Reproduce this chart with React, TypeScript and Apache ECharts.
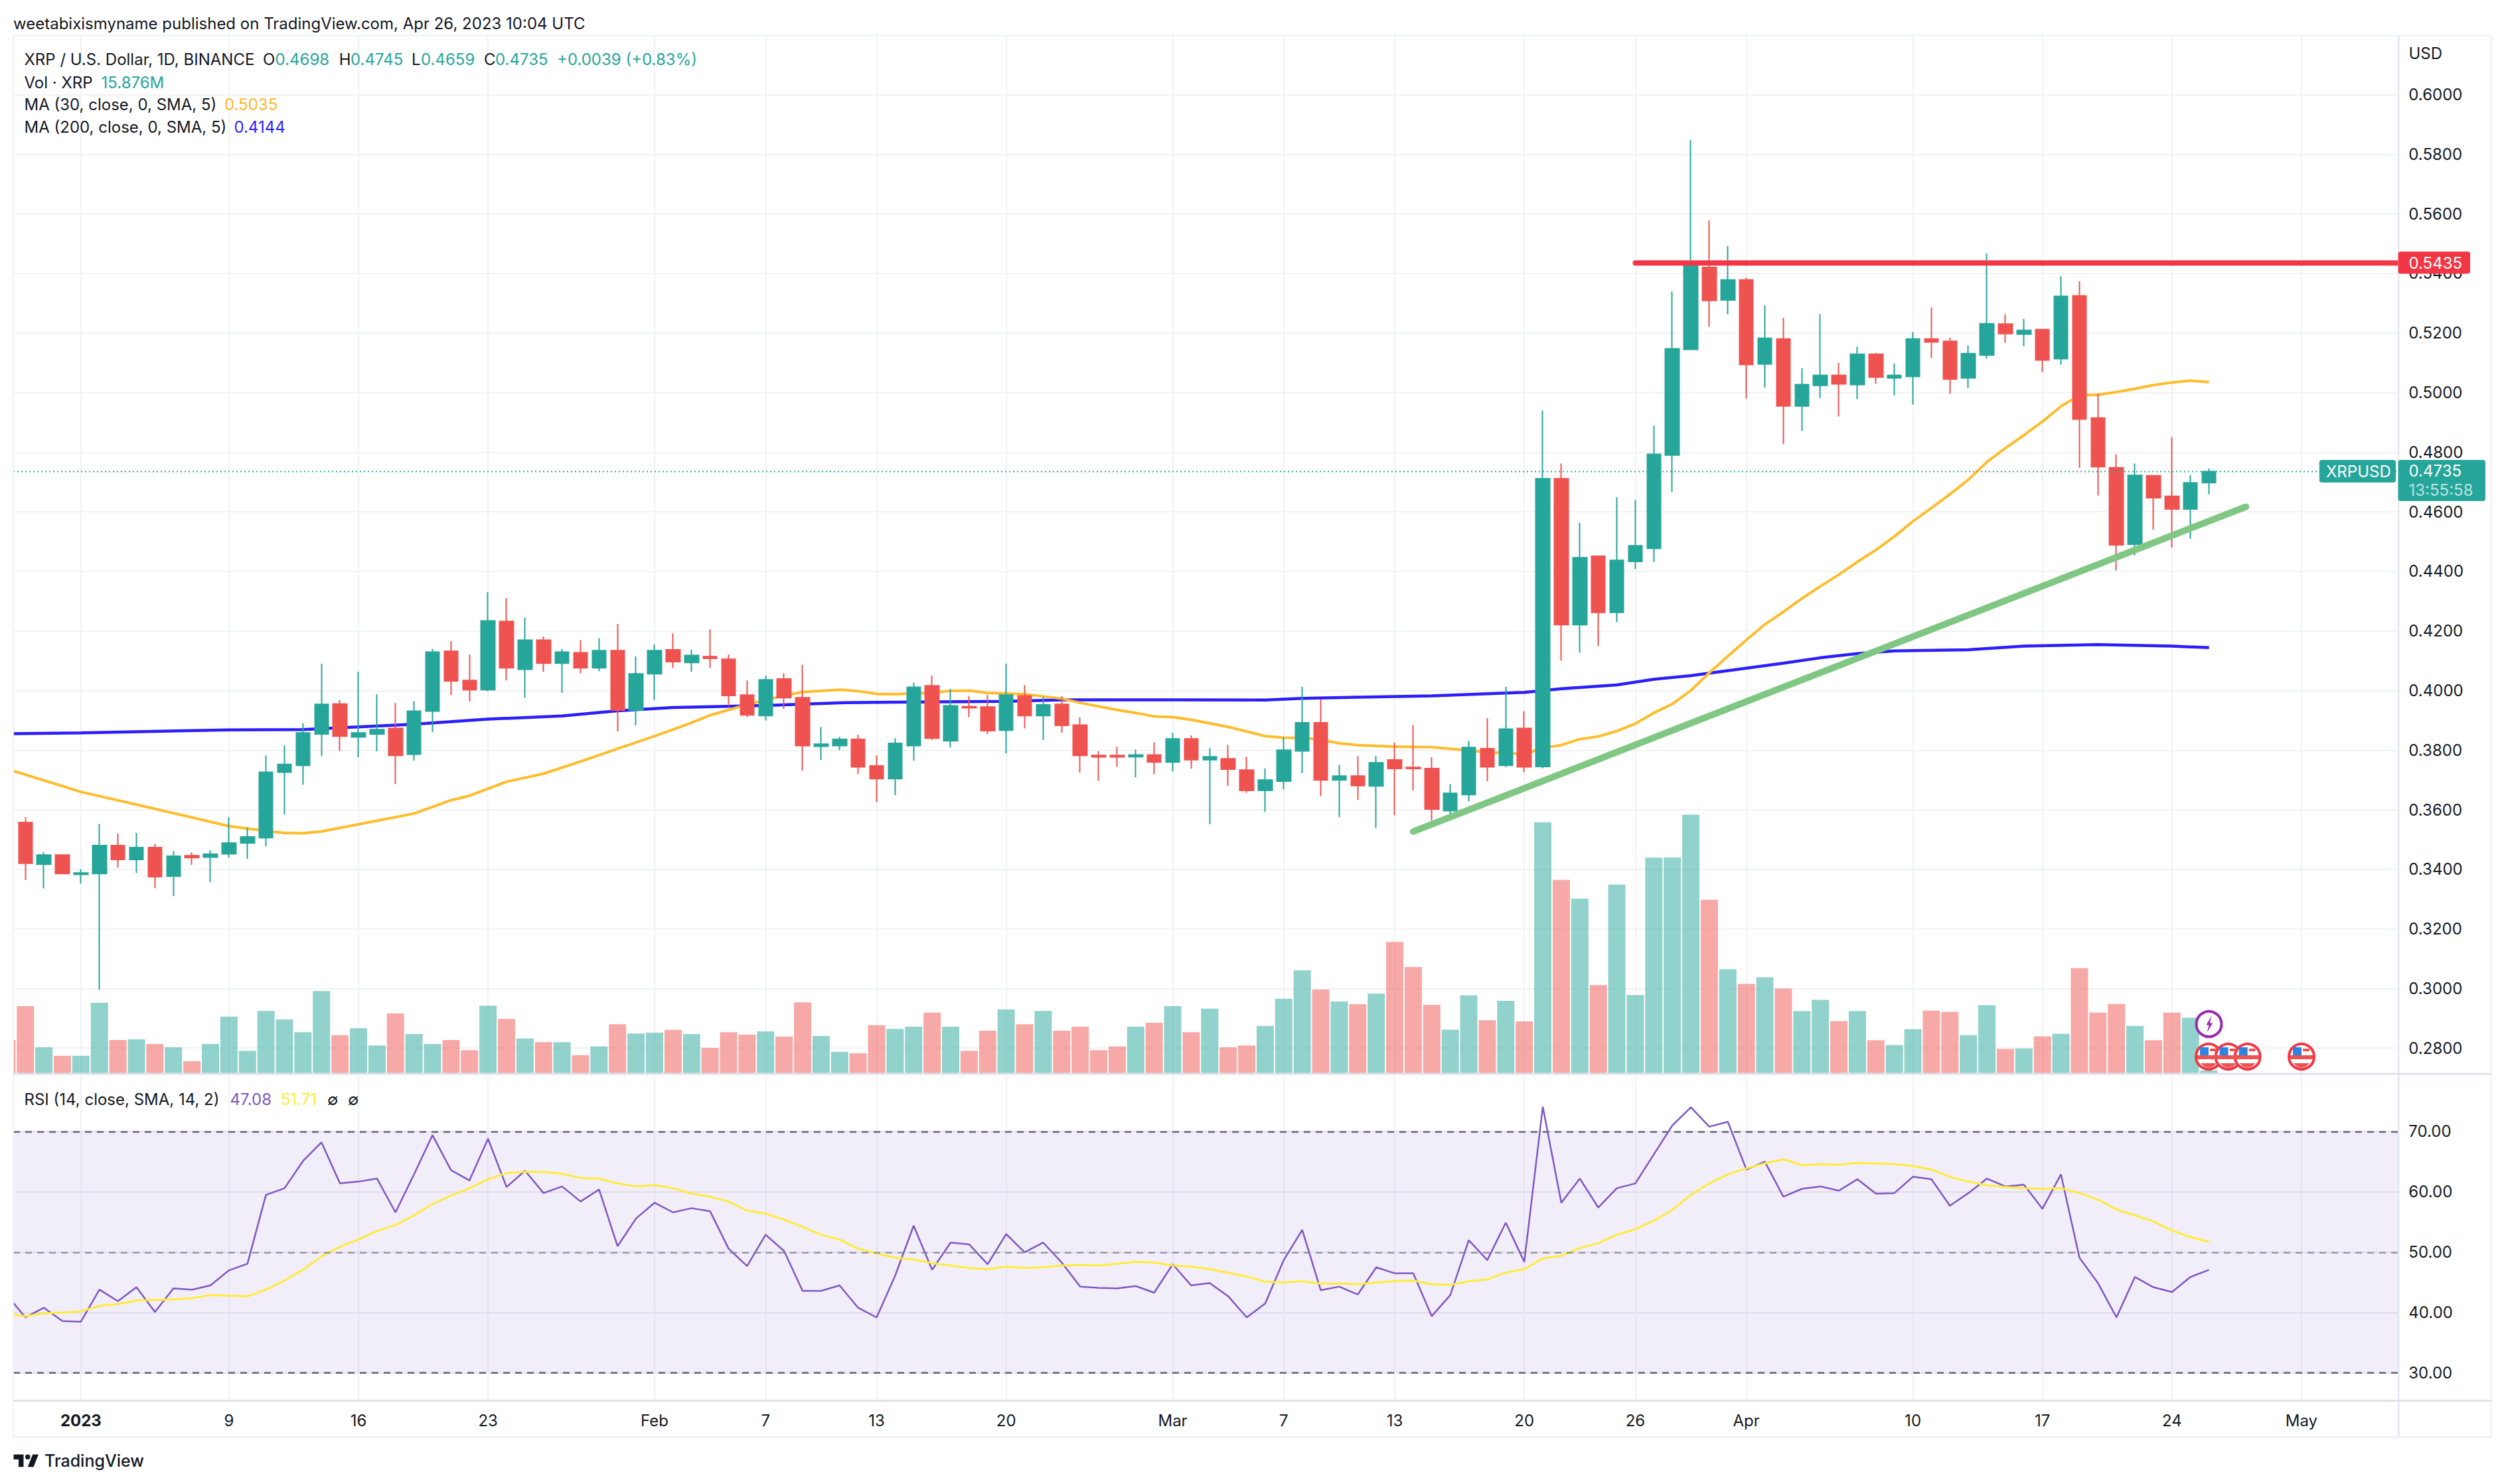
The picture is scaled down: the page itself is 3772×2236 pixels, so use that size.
import React, { useEffect, useRef } from "react";
import * as echarts from "echarts";

const FIRST_CANDLE_DAY = -3; // days after 1 Jan 2023
const opens = [.3557,.3417,.3448,.3383,.3386,.3480,.3433,.3473,.3377,.3446,.3441,.3452,.3488,.3506,.3726,.3749,.3854,.3955,.3844,.3854,.3873,.3786,.3931,.4132,.4034,.4003,.4232,.4071,.4169,.4092,.4127,.4076,.4134,.3934,.4056,.4137,.4094,.4114,.4105,.3985,.3916,.4039,.3976,.3813,.3815,.3836,.3747,.3704,.3815,.4016,.3831,.3946,.3945,.3867,.3982,.3916,.3954,.3884,.3782,.3782,.3778,.3784,.3760,.3838,.3768,.3771,.3733,.3665,.3696,.3797,.3892,.3700,.3713,.3680,.3767,.3742,.3738,.3597,.3651,.3805,.3749,.3873,.3745,.4711,.4221,.4451,.4262,.4433,.4477,.4790,.5145,.5420,.5311,.5378,.5096,.5180,.4955,.5024,.5058,.5027,.5129,.5049,.5054,.5180,.5172,.5049,.5126,.5230,.5196,.5212,.5114,.5325,.4915,.4748,.4491,.4721,.4652,.4609,.4698];
const closes = [.3420,.3448,.3386,.3388,.3480,.3433,.3473,.3375,.3444,.3439,.3451,.3488,.3509,.3726,.3752,.3858,.3954,.3847,.3858,.3869,.3782,.3931,.4129,.4032,.4003,.4234,.4076,.4169,.4092,.4129,.4076,.4134,.3934,.4056,.4134,.4097,.4118,.4108,.3983,.3918,.4036,.3976,.3815,.3820,.3836,.3744,.3704,.3823,.4011,.3840,.3949,.3942,.3865,.3985,.3916,.3952,.3883,.3782,.3777,.3777,.3784,.3760,.3838,.3768,.3778,.3736,.3665,.3700,.3800,.3892,.3700,.3713,.3681,.3758,.3738,.3738,.3602,.3655,.3809,.3744,.3871,.3744,.4711,.4221,.4446,.4262,.4437,.4486,.4793,.5147,.5426,.5309,.5378,.5094,.5182,.4955,.5027,.5058,.5029,.5129,.5052,.5058,.5180,.5170,.5045,.5131,.5231,.5198,.5209,.5109,.5323,.4911,.4751,.4489,.4722,.4647,.4609,.4697,.4735];
const lows = [.3364,.3336,.3386,.3352,.2996,.3406,.3388,.3337,.3310,.3415,.3357,.3439,.3435,.3477,.3584,.3684,.3780,.3797,.3776,.3796,.3686,.3765,.3860,.3985,.3963,.3998,.4034,.3976,.4063,.3992,.4058,.4065,.3863,.3883,.3969,.4076,.4063,.4076,.3947,.3911,.3900,.3939,.3731,.3767,.3800,.3720,.3626,.3649,.3765,.3834,.3809,.3911,.3854,.3789,.3873,.3834,.3859,.3725,.3697,.3744,.3709,.3720,.3728,.3738,.3551,.3680,.3657,.3593,.3668,.3723,.3646,.3575,.3633,.3539,.3581,.3665,.3564,.3578,.3628,.3696,.3744,.3726,.3739,.4101,.4127,.4150,.4230,.4408,.4431,.4667,.5145,.5221,.5263,.4980,.5017,.4827,.4871,.4982,.4920,.4978,.5029,.4991,.4960,.5116,.4996,.5015,.5114,.5167,.5156,.5069,.5094,.4748,.4655,.4403,.4454,.4540,.4480,.4509,.4659];
const highs = [.3575,.3457,.3448,.3400,.3552,.3520,.3522,.3486,.3462,.3457,.3464,.3575,.3540,.3782,.3816,.3890,.4090,.3968,.4063,.3987,.3958,.3965,.4140,.4166,.4121,.4330,.4310,.4245,.4181,.4140,.4169,.4176,.4224,.4114,.4155,.4192,.4137,.4205,.4121,.4034,.4050,.4058,.4087,.3878,.3844,.3852,.3782,.3840,.4027,.4050,.4005,.3981,.3985,.4090,.4018,.3978,.3981,.3910,.3796,.3811,.3802,.3826,.3858,.3849,.3807,.3818,.3778,.3739,.3844,.4013,.3971,.3751,.3780,.3780,.3825,.3884,.3776,.3686,.3831,.3907,.4013,.3931,.4940,.4762,.4563,.4451,.4649,.4639,.4889,.5339,.5847,.5578,.5492,.5385,.5293,.5251,.5082,.5263,.5100,.5154,.5133,.5098,.5203,.5286,.5184,.5158,.5467,.5263,.5247,.5214,.5390,.5374,.4997,.4793,.4762,.4721,.4851,.4723,.4745];

// Volume in millions of XRP, first value is the clipped bar of day -4.
const volumes = [163,326,128,87,87,342,163,166,144,128,61,144,276,111,303,262,201,399,186,220,137,291,192,144,163,114,329,265,170,153,153,90,132,239,194,198,212,192,125,201,189,205,179,345,182,106,99,234,217,227,295,227,111,208,310,239,303,208,227,114,132,227,246,326,201,314,128,137,231,361,499,406,349,336,387,636,515,333,213,378,258,352,253,1212,935,844,428,912,380,1042,1043,1249,839,504,433,465,411,302,357,254,302,162,139,215,305,298,186,331,120,122,181,193,509,295,337,231,162,295,270,16];

const ma200Days = [-4,0,8,12,18,22,26,29,32,37,41,44,50,53,59,64,66,73,78,80,83,85,87,90,92,94,96,98,102,105,109,113,115];
const ma200Values = [.3855,.3858,.3868,.3869,.3887,.3904,.3915,.3932,.3943,.3950,.3959,.3961,.3964,.3969,.3969,.3968,.3974,.3982,.3994,.4006,.4019,.4038,.4050,.4075,.4092,.4110,.4124,.4133,.4137,.4149,.4154,.4149,.4144];
const ma30Days = [-4,0,4,8,10,11,12,13,15,18,20,21,23,25,27,29,31,33,34,36,38,39,41,42,43,44,46,47,48,49,51,53,54,56,57,58,59,60,62,64,65,66,67,68,69,71,73,75,76,78,79,80,81,82,83,84,85,86,87,88,89,90,91,92,93,94,95,96,97,98,99,100,101,102,103,104,105,106,107,108,109,110,111,112,113,114,115];
const ma30Values = [.3737,.3660,.3603,.3545,.3529,.3522,.3521,.3527,.3551,.3587,.3632,.3647,.3694,.3721,.3762,.3805,.3847,.3892,.3917,.3953,.3983,.3995,.4003,.3998,.3989,.3988,.3993,.3999,.4000,.3992,.3988,.3973,.3959,.3935,.3925,.3913,.3911,.3902,.3878,.3847,.3842,.3841,.3835,.3823,.3817,.3812,.3810,.3799,.3793,.3787,.3807,.3817,.3837,.3846,.3864,.3889,.3925,.3955,.4000,.4060,.4115,.4170,.4222,.4264,.4309,.4350,.4389,.4432,.4472,.4517,.4568,.4613,.4659,.4708,.4767,.4814,.4857,.4903,.4954,.4991,.4993,.5002,.5013,.5025,.5034,.5040,.5035];

const rsiValues = [42.9,39.2,40.8,38.6,38.5,43.8,41.9,44.2,40.1,44.0,43.8,44.5,47.0,48.1,59.5,60.6,65.1,68.2,61.4,61.7,62.2,56.6,62.9,69.4,63.6,61.9,68.8,60.8,63.5,59.8,60.9,58.4,60.4,51.0,55.6,58.2,56.6,57.3,56.8,50.6,47.7,52.9,50.2,43.6,43.6,44.5,40.8,39.2,46.1,54.4,47.1,51.6,51.3,48.0,53.0,50.0,51.6,48.3,44.3,44.1,44.0,44.4,43.3,48.0,44.5,44.9,42.7,39.2,41.5,48.7,53.7,43.7,44.3,43.0,47.5,46.5,46.5,39.4,42.9,52.0,48.7,54.9,48.4,74.1,58.2,62.2,57.4,60.6,61.4,66.2,71.0,74.0,70.8,71.6,63.7,65.0,59.2,60.5,60.9,60.2,62.1,59.7,59.8,62.5,62.1,57.7,59.8,62.2,60.9,61.2,57.2,62.9,49.1,44.9,39.2,45.9,44.2,43.4,45.9,47.08];
const rsiSmaValues = [39.8,39.4,39.9,40.0,40.2,41.1,41.4,42.0,42.1,42.2,42.4,42.9,42.8,42.7,43.8,45.3,47.1,49.3,50.9,52.1,53.5,54.5,56.1,58.0,59.4,60.6,62.1,63.1,63.3,63.3,63.0,62.3,62.2,61.4,60.9,61.1,60.6,59.7,59.2,58.4,56.9,56.4,55.4,54.2,52.9,52.1,50.6,49.8,49.1,48.8,48.2,47.8,47.4,47.2,47.6,47.4,47.5,47.8,47.9,47.8,48.1,48.4,48.3,47.8,47.6,47.2,46.6,46.0,45.1,45.0,45.2,44.8,44.8,44.7,45.0,45.2,45.3,44.7,44.6,45.2,45.5,46.6,47.2,49.0,49.4,50.7,51.5,52.9,53.8,55.2,57.0,59.5,61.4,62.9,63.9,64.7,65.4,64.4,64.6,64.5,64.8,64.7,64.6,64.3,63.7,62.5,61.7,61.1,60.8,60.6,60.5,60.6,59.8,58.7,57.1,56.1,55.1,53.6,52.5,51.71];

const priceTicks = [.28,.30,.32,.34,.36,.38,.40,.42,.44,.46,.48,.50,.52,.54,.56,.58,.60];
const rsiTicks = [30,40,50,60,70];
const timeTickDays = [0,8,15,22,31,37,43,50,59,65,71,78,84,90,99,106,113,120];
const timeTickLabels = ["2023","9","16","23","Feb","7","13","20","Mar","7","13","20","26","Apr","10","17","24","May"];
const trendDays = [72,117];
const trendValues = [.3527,.4617];
const resistanceDays = [84,126];
const resistanceValue = .5435;
const lastClose = .4735;

const FONT = "Inter";
const TEAL = "#26a69a";
const RED = "#ef5350";
const INK = "#131722";
const GRIDC = "#f1f2f5";
const BORDER = "#e0e3eb";

const LOGO = "M14 6H2v6h6v9h6V6Zm12 15h-7l6-15h7l-6 15Zm-7-9a3 3 0 1 0 0-6 3 3 0 0 0 0 6Z";
const BOLT = "M3 -9 L-3 1 L0 1 L-2 9 L4 -1 L1 -1 Z";

const X_MIN = -3.655, X_MAX = 125.25;
const L = 20, R = 3613.3, OUTER = 3753;
const FS = 24;

function t(x: number, y: number, text: string, fill: string, extra: any = {}) {
  return { type: "text", x, y, z: 100, style: { text, fill, font: `${extra.weight || 400} ${extra.size || FS}px ${FONT}`, verticalAlign: "middle", align: extra.align || "left" } };
}
function ln(x1: number, y1: number, x2: number, y2: number, stroke: string, lineWidth = 2) {
  return { type: "line", z: 50, shape: { x1, y1, x2, y2 }, style: { stroke, lineWidth } };
}
function rr(x: number, y: number, width: number, height: number, fill: string, r = 4) {
  return { type: "rect", z: 90, shape: { x, y, width, height, r }, style: { fill } };
}
function flag(x: number, y: number) {
  return {
    type: "group", x, y, z: 110,
    children: [
      { type: "circle", z: 110, shape: { r: 19 }, style: { fill: "#fff", stroke: "#f23645", lineWidth: 4 } },
      { type: "rect", z: 111, shape: { x: -13, y: -14, width: 13, height: 13 }, style: { fill: "#2b84e4" } },
      { type: "rect", z: 111, shape: { x: -17, y: -2, width: 34, height: 6 }, style: { fill: "#f0534f" } },
      { type: "polygon", z: 111, shape: { points: [[-12, 10], [12, 10], [7, 15], [0, 17], [-7, 15]] }, style: { fill: "#f0534f" } },
      { type: "rect", z: 111, shape: { x: 2, y: -12, width: 10, height: 4 }, style: { fill: "#f0534f" } },
    ],
  };
}

export default function App() {
  const ref = useRef<HTMLDivElement>(null);
  useEffect(() => {
    const el = ref.current!;
    echarts.graphic.registerShape("tvlogo", echarts.graphic.extendPath(LOGO, {}));
    echarts.graphic.registerShape("bolt", echarts.graphic.extendPath(BOLT, {}));
    const chart = echarts.init(el, undefined, { renderer: "svg" });

    const candles = opens.map((o, i) => [FIRST_CANDLE_DAY + i, o, closes[i], lows[i], highs[i]]);
    const volBars = volumes.map((v, i) => {
      const c = i - 1;
      const up = c >= 0 ? closes[c] >= opens[c] : false;
      return { value: [FIRST_CANDLE_DAY - 1 + i, v], itemStyle: { color: up ? "rgba(38,166,154,0.5)" : "rgba(239,83,80,0.5)" } };
    });
    const pair = (ds: number[], vs: number[]) => ds.map((d, i) => [d, vs[i]]);
    const seq = (vs: number[]) => vs.map((v, i) => [FIRST_CANDLE_DAY - 1 + i, v]);

    const xBase = (gridIndex: number, labels: boolean) => ({
      type: "value", gridIndex, min: X_MIN, max: X_MAX,
      axisLine: { show: false },
      axisTick: { show: false, customValues: timeTickDays },
      splitLine: { show: gridIndex !== 1, lineStyle: { color: GRIDC, width: 2 } },
      axisLabel: {
        show: labels, customValues: timeTickDays, margin: 18,
        color: INK, fontFamily: FONT, fontSize: FS,
        formatter: (v: number) => {
          const s = timeTickLabels[timeTickDays.indexOf(v)] ?? "";
          return s === "2023" ? `{b|${s}}` : s;
        },
        rich: { b: { fontWeight: 700, fontFamily: FONT, fontSize: FS, color: INK } },
      },
    });

    chart.setOption({
      animation: false,
      backgroundColor: "#ffffff",
      grid: [
        { left: L, top: 54, width: R - L, height: 1564 },
        { left: L, top: 54, width: R - L, height: 1564 },
        { left: L, top: 1620, width: R - L, height: 490.4 },
      ],
      xAxis: [xBase(0, false), xBase(1, false), xBase(2, true)],
      yAxis: [
        {
          type: "value", gridIndex: 0, position: "right", min: 0.27136, max: 0.61974,
          axisLine: { show: false },
          axisTick: { show: false, customValues: priceTicks },
          splitLine: { show: true, lineStyle: { color: GRIDC, width: 2 } },
          axisLabel: { customValues: priceTicks, margin: 15, color: INK, fontFamily: FONT, fontSize: FS, formatter: (v: number) => v.toFixed(4) },
        },
        { type: "value", gridIndex: 1, min: 0, max: 5002, show: false },
        {
          type: "value", gridIndex: 2, position: "right", min: 25.415, max: 79.33,
          axisLine: { show: false },
          axisTick: { show: false, customValues: rsiTicks },
          splitLine: { show: true, lineStyle: { color: "#ebe8f2", width: 2 } },
          axisLabel: { customValues: rsiTicks, margin: 15, color: INK, fontFamily: FONT, fontSize: FS, formatter: (v: number) => v.toFixed(2) },
        },
      ],
      series: [
        { type: "bar", name: "Vol", xAxisIndex: 1, yAxisIndex: 1, barWidth: 26, z: 1, clip: true, data: volBars },
        { type: "line", name: "MA 200", xAxisIndex: 0, yAxisIndex: 0, z: 2, symbol: "none", lineStyle: { color: "#2a1eff", width: 4.5 }, data: pair(ma200Days, ma200Values) },
        { type: "line", name: "MA 30", xAxisIndex: 0, yAxisIndex: 0, z: 2, symbol: "none", lineStyle: { color: "#ffbc2b", width: 4 }, data: pair(ma30Days, ma30Values) },
        {
          type: "candlestick", name: "XRPUSD", xAxisIndex: 0, yAxisIndex: 0, z: 3, barWidth: 21,
          itemStyle: { color: TEAL, color0: RED, borderColor: TEAL, borderColor0: RED, borderWidth: 2 },
          data: candles,
        },
        { type: "line", name: "Last", xAxisIndex: 0, yAxisIndex: 0, z: 4, symbol: "none", lineStyle: { color: TEAL, width: 2, type: [2, 4] }, data: [[X_MIN, lastClose], [X_MAX, lastClose]] },
        { type: "line", name: "Trend", xAxisIndex: 0, yAxisIndex: 0, z: 5, symbol: "none", lineStyle: { color: "#81c784", width: 10, cap: "round" }, data: pair(trendDays, trendValues) },
        { type: "line", name: "Resistance", xAxisIndex: 0, yAxisIndex: 0, z: 5, symbol: "none", lineStyle: { color: "#f23645", width: 8, cap: "round" }, data: resistanceDays.map((d) => [d, resistanceValue]) },
        {
          type: "line", name: "RSI", xAxisIndex: 2, yAxisIndex: 2, z: 4, symbol: "none",
          lineStyle: { color: "#7e57c2", width: 2.5 }, data: seq(rsiValues),
          markArea: { silent: true, itemStyle: { color: "rgba(126,87,194,0.1)" }, data: [[{ yAxis: 70, x: L }, { yAxis: 30, x: R }]] },
          markLine: {
            silent: true, symbol: "none", label: { show: false },
            data: [
              { yAxis: 70, lineStyle: { color: "#787b86", type: [10, 8], width: 3 } },
              { yAxis: 50, lineStyle: { color: "rgba(120,123,134,0.6)", type: [10, 8], width: 3 } },
              { yAxis: 30, lineStyle: { color: "#787b86", type: [10, 8], width: 3 } },
            ],
          },
        },
        { type: "line", name: "RSI SMA", xAxisIndex: 2, yAxisIndex: 2, z: 4, symbol: "none", lineStyle: { color: "#ffeb3b", width: 3 }, data: seq(rsiSmaValues) },
      ],
      graphic: {
        elements: [
          { type: "rect", z: 49, shape: { x: 0, y: 0, width: L, height: 2236 }, style: { fill: "#ffffff" } },
          ln(L, 53.6, OUTER, 53.6, "#f0f1f3"),
          ln(L, 54, L, 2165, "#f0f1f3"),
          ln(OUTER, 54, OUTER, 2165, "#f0f1f3"),
          ln(R, 54, R, 2165, BORDER),
          ln(L, 1618, OUTER, 1618, BORDER, 3),
          ln(L, 2110.5, OUTER, 2110.5, BORDER, 3),
          ln(L, 2165.4, OUTER, 2165.4, "#f0f1f3", 3),

          t(20, 35.7, "weetabixismyname published on TradingView.com, Apr 26, 2023 10:04 UTC", INK),

          t(36.5, 89.8, "XRP / U.S. Dollar, 1D, BINANCE", INK),
          t(396, 89.8, "O", INK), t(414.6, 89.8, "0.4698", TEAL),
          t(510.8, 89.8, "H", INK), t(528, 89.8, "0.4745", TEAL),
          t(620, 89.8, "L", INK), t(634, 89.8, "0.4659", TEAL),
          t(729, 89.8, "C", INK), t(746, 89.8, "0.4735", TEAL),
          t(839, 89.8, "+0.0039 (+0.83%)", TEAL),
          t(36.5, 124, "Vol · XRP", INK), t(152.6, 124, "15.876M", TEAL),
          t(36.5, 157.6, "MA (30, close, 0, SMA, 5)", INK), t(338, 157.6, "0.5035", "#ffb92b"),
          t(36.5, 191.8, "MA (200, close, 0, SMA, 5)", INK), t(352.4, 191.8, "0.4144", "#2a1eff"),

          t(36.5, 1656.5, "RSI (14, close, SMA, 14, 2)", INK),
          t(346.6, 1656.5, "47.08", "#7e57c2"), t(423, 1656.5, "51.71", "#ffeb3b"),
          t(493, 1656.5, "∅", INK), t(524, 1656.5, "∅", INK),

          t(3628.5, 80, "USD", INK),

          rr(3612.5, 379, 108.5, 33.6, "#f23645"),
          t(3628.5, 396, "0.5435", "#ffffff"),
          rr(3493.8, 693, 115.2, 34, TEAL),
          t(3504, 710, "XRPUSD", "#ffffff"),
          rr(3612.5, 693, 131.5, 62, TEAL),
          t(3628.5, 709.6, "0.4735", "#ffffff"),
          t(3628.5, 738, "13:55:58", "rgba(255,255,255,0.7)"),

          {
            type: "group", x: 3327.5, y: 1543, z: 110,
            children: [
              { type: "circle", z: 110, shape: { r: 19 }, style: { fill: "#fff", stroke: "#9c27b0", lineWidth: 4 } },
              { type: "bolt", z: 111, x: 0, y: 0, scaleX: 1.4, scaleY: 1.4, style: { fill: "#9c27b0" } },
            ],
          },
          flag(3327, 1592), flag(3356.6, 1592), flag(3385.7, 1592), flag(3467, 1592),

          { type: "tvlogo", x: 18, y: 2184, scaleX: 1.25, scaleY: 1.25, z: 100, style: { fill: INK } },
          t(67, 2201, "TradingView", INK, { size: 25, weight: 500 }),
        ],
      },
    });
    return () => chart.dispose();
  }, []);
  return <div ref={ref} style={{ position: "fixed", left: 0, top: 0, width: 3772, height: 2236 }} />;
}
